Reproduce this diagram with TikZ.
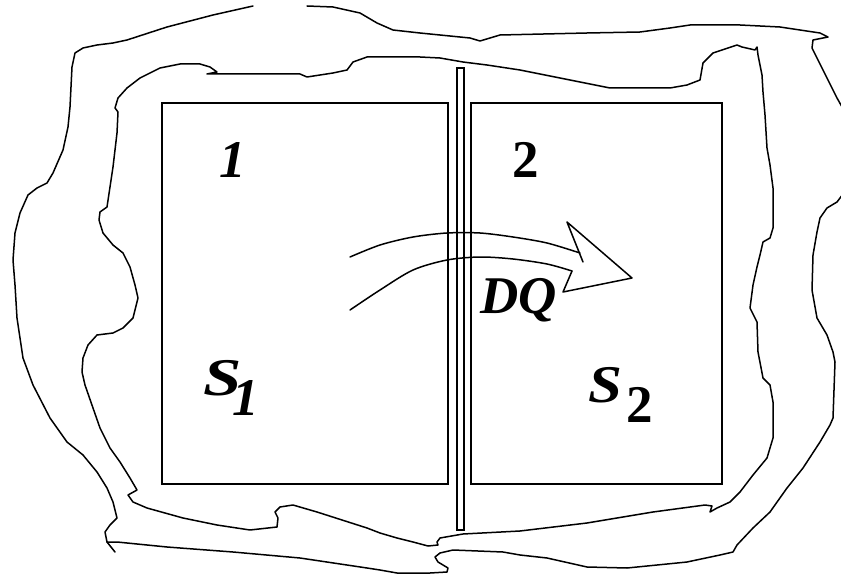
\documentclass[tikz,border=0pt]{standalone}
\usepackage{fontspec}
\setmainfont{Liberation Serif}
\usepackage{tikz}

\begin{document}
\begin{tikzpicture}[
  x=1pt, y=-1pt,
  wave/.style={line width=1.5pt, line join=round, line cap=round},
  sysbox/.style={line width=2pt},
  lbl/.style={font=\fontsize{53}{60}\selectfont\bfseries\itshape, inner sep=0pt}
]
  \clip (0,0) rectangle (841,575);

  %--- Surroundings (outer boundary) ---
  \draw[wave] (307,6) -- (333,7) -- (360,13) -- (377,23) -- (393,30) -- (420,33)
    -- (470,38) -- (480,41) -- (500,35) -- (587,33) -- (640,32) -- (670,28)
    -- (690,25) -- (740,25) -- (780,27) -- (800,30) -- (820,33) -- (828,37)
    -- (813,40) -- (812,48) -- (817,58) -- (827,78) -- (837,98) -- (846,114)
    -- (850,150) -- (846,190) -- (837,202) -- (827,208) -- (820,218) -- (817,232)
    -- (813,255) -- (812,290) -- (817,318) -- (827,335) -- (833,352) -- (835,362)
    -- (833,418) -- (830,425) -- (820,442) -- (803,468) -- (787,488) -- (770,512)
    -- (753,528) -- (737,545) -- (733,552) -- (720,555) -- (687,562) -- (627,568)
    -- (587,567) -- (547,558) -- (520,555) -- (503,552) -- (453,550) -- (440,553)
    -- (435,557) -- (438,562) -- (448,568) -- (447,572) -- (430,573) -- (397,573)
    -- (380,570) -- (367,568) -- (300,558) -- (233,552) -- (167,547) -- (117,542)
    -- (107,542) -- (105,532) -- (110,525) -- (117,518) -- (113,502) -- (107,488)
    -- (97,472) -- (83,455) -- (67,442) -- (50,418) -- (33,385) -- (23,358)
    -- (17,318) -- (15,285) -- (13,260) -- (15,233) -- (20,213) -- (28,195)
    -- (37,188) -- (47,183) -- (53,173) -- (63,150) -- (68,127) -- (70,107)
    -- (72,67) -- (75,53) -- (83,48) -- (97,45) -- (113,43) -- (127,40)
    -- (167,27) -- (213,15) -- (253,6);
  \draw[wave] (107,542) -- (115,552);

  %--- Insulating enclosure (inner boundary) ---
  \draw[wave] (207,74) -- (300,74) -- (307,77) -- (333,73) -- (347,70) -- (353,62)
    -- (367,57) -- (420,57) -- (440,58) -- (463,62) -- (487,65) -- (520,70)
    -- (560,78) -- (610,88) -- (670,88) -- (687,85) -- (700,80) -- (703,63)
    -- (713,53) -- (737,45) -- (742,47) -- (755,50) -- (757,47) -- (758,55)
    -- (762,75) -- (763,92) -- (765,115) -- (767,148) -- (770,165) -- (773,188)
    -- (773,228) -- (770,238) -- (763,242) -- (760,255) -- (757,267) -- (753,285)
    -- (750,308) -- (757,322) -- (758,352) -- (763,378) -- (770,385) -- (773,402)
    -- (773,438) -- (767,458) -- (753,475) -- (740,492) -- (730,502) -- (717,508)
    -- (710,512) -- (712,506) -- (705,505) -- (653,512) -- (587,523) -- (520,531)
    -- (463,534) -- (440,538) -- (437,542) -- (438,545) -- (428,546) -- (413,542)
    -- (397,538) -- (380,533) -- (367,528) -- (317,512) -- (293,505) -- (280,507)
    -- (275,512) -- (278,518) -- (277,527) -- (250,530) -- (217,525) -- (183,518)
    -- (147,508) -- (133,502) -- (128,495) -- (137,490) -- (130,478) -- (120,462)
    -- (110,448) -- (100,428) -- (93,408) -- (85,385) -- (82,372) -- (83,358)
    -- (88,345) -- (97,335) -- (113,333) -- (123,328) -- (133,318) -- (138,298)
    -- (135,285) -- (130,267) -- (123,253) -- (113,245) -- (103,233) -- (99,220)
    -- (100,212) -- (107,207) -- (110,187) -- (113,167) -- (117,133) -- (118,112)
    -- (115,108) -- (118,98) -- (127,88) -- (140,78) -- (160,68) -- (180,64)
    -- (200,64) -- (210,67) -- (217,72) -- cycle;

  %--- Subsystems and wall ---
  \draw[sysbox] (162,103) rectangle (448,484);
  \draw[sysbox] (471,103) rectangle (722,484);
  \draw[line width=1.5pt] (457,68) rectangle (464,530);

  %--- Heat flow arrow ---
  \draw[wave] plot[smooth] coordinates {(350,257) (380,245) (413,237) (447,233)
    (480,233) (513,237) (547,243) (580,253)};
  \draw[wave] plot[smooth] coordinates {(350,310) (380,290) (413,270) (447,260)
    (480,257) (513,259) (547,264) (572,271)};
  \draw[wave] (572,271) -- (563,292) -- (632,278) -- (567,222) -- (583,262);

  %--- Labels ---
  \node[lbl, anchor=base] (n1) at (233,178) {1};
  \node[lbl, anchor=base, font=\fontsize{53}{60}\selectfont\bfseries] (n2) at (526,178) {2};
  \node[lbl, anchor=base] (dq) at (519,313) {DQ};
  \node[lbl, anchor=base west] (s1) at (203,395)
    {\scalebox{1.3}[1]{S}\kern-9pt\raisebox{-20pt}{1}};
  \node[lbl, anchor=base west] (s2) at (588,402)
    {\scalebox{1.15}[1]{S}\kern4pt\raisebox{-20pt}{\upshape 2}};
\end{tikzpicture}
\end{document}
